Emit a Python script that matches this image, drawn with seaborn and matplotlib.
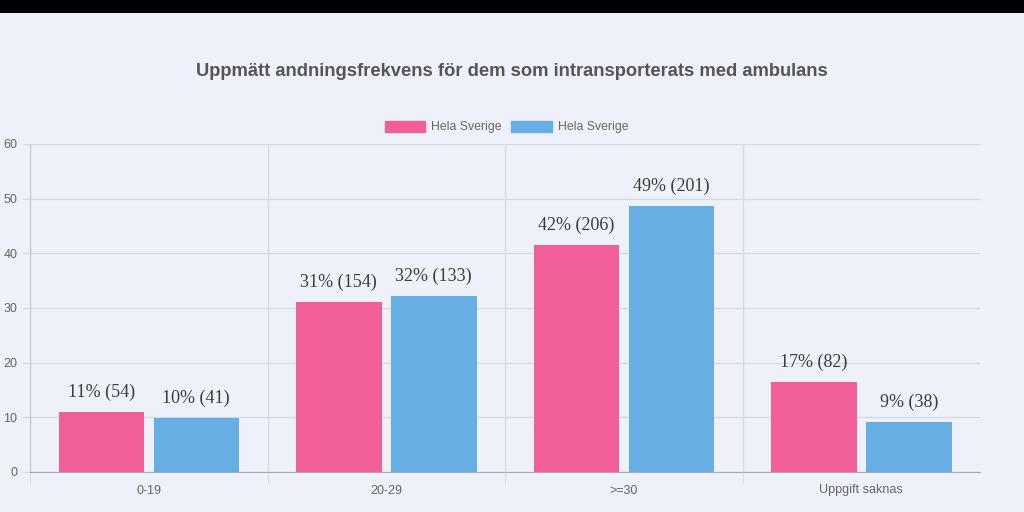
import pandas as pd
import matplotlib.pyplot as plt
import seaborn as sns
from matplotlib.patches import Patch, Rectangle

# data
kategorier = ['0-19', '20-29', '>=30', 'Uppgift saknas']
andel_1 = [10.89, 31.05, 41.53, 16.53]
antal_1 = [54, 154, 206, 82]
andel_2 = [9.93, 32.20, 48.67, 9.20]
antal_2 = [41, 133, 201, 38]
serienamn = ['Hela Sverige', 'Hela Sverige']
farger = ['#f25f98', '#66aee3']

df = pd.concat([
    pd.DataFrame({'kategori': kategorier, 'andel': andel_1, 'antal': antal_1, 'serie': 's1'}),
    pd.DataFrame({'kategori': kategorier, 'andel': andel_2, 'antal': antal_2, 'serie': 's2'}),
])

bg = '#eef1fa'
sns.set_style('white')
plt.rcParams['font.family'] = ['Liberation Sans', 'DejaVu Sans']

fig = plt.figure(figsize=(10.24, 5.12), dpi=100, facecolor=bg)
ax = fig.add_axes([30 / 1024, 40 / 512, 950 / 1024, 328 / 512])
ax.set_facecolor(bg)

sns.barplot(data=df, x='kategori', y='andel', hue='serie', palette=farger,
            width=0.8, gap=0.1, saturation=1, legend=False, linewidth=0, ax=ax)

# labels above the bars
for cont, andel, antal in zip(ax.containers, [andel_1, andel_2], [antal_1, antal_2]):
    for bar, v, n in zip(cont, andel, antal):
        ax.annotate(f'{v:.0f}% ({n})', (bar.get_x() + bar.get_width() / 2, bar.get_height()),
                    xytext=(0, 11), textcoords='offset pixels', ha='center', va='bottom',
                    family='Liberation Serif', fontsize=13, color='#3c3c3c')

ax.set_ylim(0, 60)
ax.set_xlim(-0.5, 3.5)
ax.set_yticks(range(0, 61, 10))
ax.set_xlabel('')
ax.set_ylabel('')

grid_c = '#d6d9e3'
for s in ['top', 'right']:
    ax.spines[s].set_visible(False)
ax.spines['left'].set_color('#c3c6d0')
ax.spines['bottom'].set_color('#a9acb5')
ax.yaxis.grid(True, color=grid_c, lw=0.9)
ax.set_axisbelow(True)

ax.set_xticks([-0.5, 0.5, 1.5, 2.5], minor=True)
ax.xaxis.grid(True, which='minor', color=grid_c, lw=0.9)
ax.tick_params(axis='x', which='minor', length=8, color=grid_c, direction='out', bottom=True)
ax.tick_params(axis='x', which='major', length=0, pad=9, labelsize=9, labelcolor='#666666')
ax.tick_params(axis='y', length=6, color=grid_c, pad=3, labelsize=9, labelcolor='#666666', left=True)

# legend
handles = [Patch(facecolor=c, edgecolor=c, label=n) for c, n in zip(farger, serienamn)]
fig.legend(handles=handles, loc='center', bbox_to_anchor=(506.5 / 1024, 1 - 127 / 512), ncol=2,
           frameon=False, fontsize=8.8, labelcolor='#666666', handlelength=3.3, handleheight=1.0,
           handletextpad=0.5, columnspacing=0.8)

fig.suptitle('Uppmätt andningsfrekvens för dem som intransporterats med ambulans',
             y=1 - 71 / 512, va='center', fontsize=13.2, fontweight='bold', color='#555555')

# black band at the top
fig.patches.append(Rectangle((0, 1 - 13 / 512), 1, 13 / 512, transform=fig.transFigure,
                             facecolor='black', edgecolor='none', zorder=10))

fig.savefig('out.png', dpi=100, facecolor=bg)
